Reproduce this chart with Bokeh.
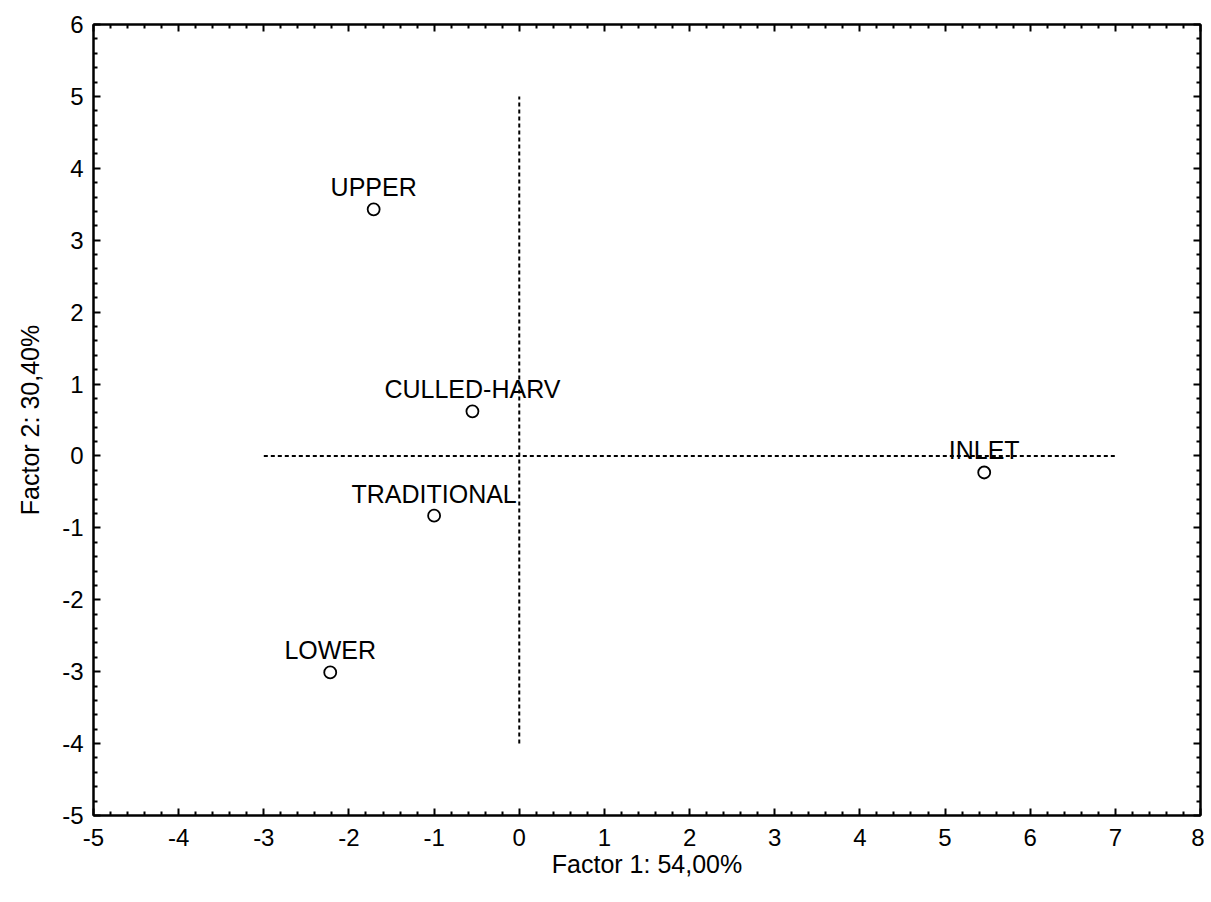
from bokeh.plotting import figure
from bokeh.models import LinearAxis, Range1d, ColumnDataSource, FixedTicker, CustomJSTickFormatter
from bokeh.embed import file_html
from bokeh.resources import INLINE
from bokeh.core.properties import value

labels = ["UPPER", "CULLED-HARV", "TRADITIONAL", "LOWER", "INLET"]
factor1 = [-1.71, -0.55, -1.0, -2.22, 5.46]
factor2 = [3.43, 0.62, -0.83, -3.01, -0.23]

x_ticks = list(range(-5, 9))
y_ticks = list(range(-5, 7))

hline_x = [-3, 7]
hline_y = [0, 0]
vline_x = [0, 0]
vline_y = [-4, 5]

FONT = "Liberation Sans"

p = figure(width=1204, height=890, output_backend="svg", toolbar_location=None,
           x_range=Range1d(-5, 8), y_range=Range1d(-5, 6),
           min_border_left=93, min_border_right=4, min_border_top=24, min_border_bottom=75)
p.grid.visible = False
p.outline_line_color = "black"
p.outline_line_width = 2
p.background_fill_color = "white"
p.border_fill_color = "white"

def style_axis(ax, ticks, show_labels=True):
    ax.ticker = FixedTicker(ticks=ticks, minor_ticks=[t + k * 0.2 for t in ticks for k in range(1, 5)])
    ax.axis_line_color = "black"
    ax.axis_line_width = 2
    ax.major_tick_in = 7
    ax.major_tick_out = 0
    ax.minor_tick_in = 4
    ax.minor_tick_out = 0
    ax.major_tick_line_width = 2
    ax.minor_tick_line_width = 2
    ax.major_tick_line_color = "black"
    ax.minor_tick_line_color = "black"
    ax.major_label_text_font = FONT
    ax.major_label_text_font_size = "24px"
    ax.major_label_text_color = "black"
    ax.axis_label_text_font = FONT
    ax.axis_label_text_font_size = "25px"
    ax.axis_label_text_font_style = "normal"
    ax.axis_label_text_color = "black"
    if show_labels:
        ax.formatter = CustomJSTickFormatter(code="return tick.toFixed(0);")
    else:
        ax.major_label_text_font_size = "0px"
        ax.major_label_standoff = 0
        ax.formatter = CustomJSTickFormatter(code="return '';")

style_axis(p.xaxis[0], x_ticks)
style_axis(p.yaxis[0], y_ticks)
p.xaxis[0].axis_label = "Factor 1: 54,00%"
p.yaxis[0].axis_label = "Factor 2: 30,40%"
p.xaxis[0].major_label_standoff = 13
p.yaxis[0].major_label_standoff = 10
p.xaxis[0].axis_label_standoff = 1
p.yaxis[0].axis_label_standoff = 15

top = LinearAxis()
style_axis(top, x_ticks, show_labels=False)
p.add_layout(top, "above")
right = LinearAxis()
style_axis(right, y_ticks, show_labels=False)
p.add_layout(right, "right")

p.line(hline_x, hline_y, line_color="black", line_width=2, line_dash="4 3")
p.line(vline_x, vline_y, line_color="black", line_width=2, line_dash="4 3")

src = ColumnDataSource(dict(x=factor1, y=factor2, label=labels))
p.scatter("x", "y", source=src, size=12, marker="circle", fill_color="white",
          line_color="black", line_width=1.8)
p.text("x", "y", text="label", source=src, text_font=value(FONT), text_font_size="25px",
       text_align="center", text_baseline="bottom", y_offset=-8, text_color="black")

open("out.html", "w").write(file_html(p, INLINE))
